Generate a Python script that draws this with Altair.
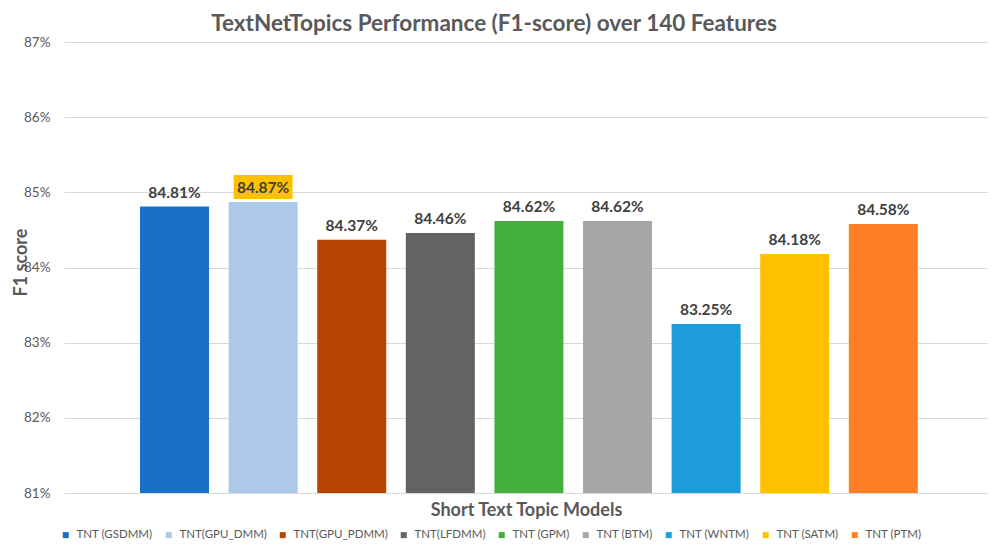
import altair as alt
import pandas as pd

models = ["TNT (GSDMM)", "TNT(GPU_DMM)", "TNT(GPU_PDMM)", "TNT(LFDMM)", "TNT (GPM)",
          "TNT (BTM)", "TNT (WNTM)", "TNT (SATM)", "TNT (PTM)"]
f1 = [0.8481, 0.8487, 0.8437, 0.8446, 0.8462, 0.8462, 0.8325, 0.8418, 0.8458]
colors = ["#1870C8", "#ADC8E9", "#B54500", "#636363", "#44AF3C",
          "#A6A6A6", "#1C9CD8", "#FFC000", "#FF7F27"]
y_ticks = [0.81, 0.82, 0.83, 0.84, 0.85, 0.86, 0.87]
highlight = "TNT(GPU_DMM)"

df = pd.DataFrame({"model": models, "f1": f1})

FONT = "Lato"

x_enc = alt.X("model:N", sort=models,
              scale=alt.Scale(paddingInner=0.221, paddingOuter=0.825, align=0.52),
              axis=alt.Axis(labels=False, ticks=False, domain=False,
                            title="Short Text Topic Models", titleFontSize=18,
                            titleFont=FONT, titleFontWeight="bold", titleColor="#595959",
                            titlePadding=8))
y_enc = alt.Y("f1:Q", scale=alt.Scale(domain=[0.81, 0.87], zero=False, nice=False),
              axis=alt.Axis(values=y_ticks, format=".0%", grid=True, gridColor="#D9D9D9",
                            domain=False, ticks=False, labelPadding=14, labelFontSize=13.5,
                            labelFont=FONT, labelColor="#595959",
                            title="F1 score", titleFontSize=18, titleFont=FONT,
                            titleFontWeight="bold", titleColor="#595959",
                            titleX=-34, titleY=220))

base = alt.Chart(df)

bars = base.mark_bar(clip=True).encode(
    x=x_enc,
    y=y_enc,
    color=alt.Color("model:N", sort=models,
                    scale=alt.Scale(domain=models, range=colors),
                    legend=alt.Legend(title=None, orient="none", legendX=-4, legendY=487,
                                      direction="horizontal", columns=9, symbolType="square",
                                      symbolSize=36, symbolStrokeWidth=0, labelFont=FONT,
                                      labelFontSize=11.5, labelColor="#595959", labelOffset=5,
                                      columnPadding=10)),
)

box = base.transform_filter(alt.datum.model == highlight).mark_point(
    shape="M-1,-0.407L1,-0.407L1,0.407L-1,0.407Z", size=3481, filled=True,
    color="#FFC000", opacity=1, yOffset=-15,
).encode(x=alt.X("model:N", sort=models), y="f1:Q")

labels = base.mark_text(font=FONT, fontSize=15.5, fontWeight="bold", color="#404040",
                        baseline="alphabetic", dy=-9).encode(
    x=alt.X("model:N", sort=models), y="f1:Q", text=alt.Text("f1:Q", format=".2%"))

chart = alt.layer(bars, box, labels).properties(
    width=924, height=451,
    padding={"left": 56, "top": 34, "right": 0, "bottom": 52},
    autosize=alt.AutoSizeParams(type="none"),
    title=alt.TitleParams("TextNetTopics Performance (F1-score) over 140 Features",
                          font=FONT, fontSize=22.5, fontWeight="bold", color="#595959",
                          anchor="middle", dx=-32, offset=0),
).configure_view(stroke=None)

chart.save("out.html", embed_options={"renderer": "svg", "actions": False})
